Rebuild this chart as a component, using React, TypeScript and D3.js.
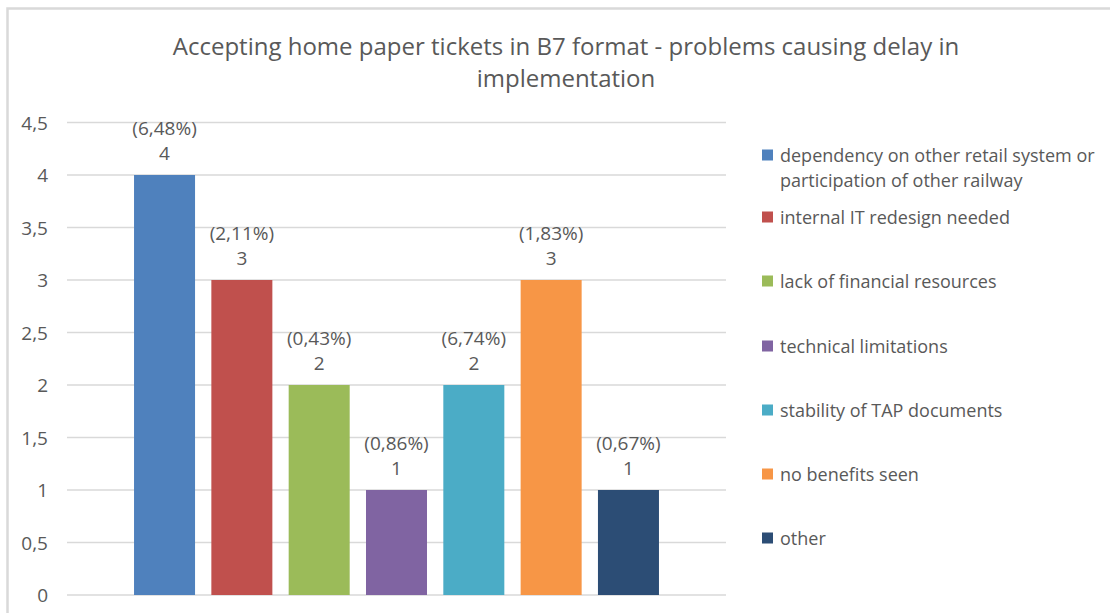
import React from "react";
import * as d3 from "d3";

const seriesNames = [
  "dependency on other retail system or participation of other railway",
  "internal IT redesign needed",
  "lack of financial resources",
  "technical limitations",
  "stability of TAP documents",
  "no benefits seen",
  "other",
];
const legendLines = [
  ["dependency on other retail system or", "participation of other railway"],
  ["internal IT redesign needed"],
  ["lack of financial resources"],
  ["technical limitations"],
  ["stability of TAP documents"],
  ["no benefits seen"],
  ["other"],
];
const values = [4, 3, 2, 1, 2, 3, 1];
const percents = ["6,48%", "2,11%", "0,43%", "0,86%", "6,74%", "1,83%", "0,67%"];
const colors = ["#4f81bd", "#c0504d", "#9bbb59", "#8064a2", "#4bacc6", "#f79646", "#2c4d75"];
const yTicks = [0, 0.5, 1, 1.5, 2, 2.5, 3, 3.5, 4, 4.5];
const titleLines = [
  "Accepting home paper tickets in B7 format - problems causing delay in",
  "implementation",
];

const W = 1110;
const H = 613;
const FONT = "'Open Sans', Lato, sans-serif";
const TEXT = "#595959";

export default function App() {
  const plotLeft = 67;
  const plotRight = 726;
  const y = d3.scaleLinear().domain([0, 4.5]).range([595, 122.5]);
  const x = d3
    .scaleBand<string>()
    .domain(seriesNames)
    .range([plotLeft, plotRight])
    .paddingInner(0.211)
    .paddingOuter(0.867);
  const fmt = (v: number) => String(v).replace(".", ",");
  const legendY = [155, 217, 281, 346, 410, 474, 538];

  return (
    <svg
      width={W}
      height={H}
      style={{ position: "absolute", left: 0, top: 0, display: "block" }}
      fontFamily={FONT}
    >
      <rect x={0} y={0} width={W} height={H} fill="#fff" />
      <path d="M7.5,1000 L7.5,8.5 L1200,8.5" fill="none" stroke="#d9d9d9" strokeWidth={2.5} />
      {titleLines.map((t, i) => (
        <text
          key={i}
          x={566}
          y={45 + i * 32}
          textAnchor="middle"
          dominantBaseline="central"
          fontSize={24}
          fill={TEXT}
        >
          {t}
        </text>
      ))}
      {yTicks.map((t) => (
        <g key={t}>
          <line
            x1={plotLeft}
            x2={plotRight}
            y1={y(t)}
            y2={y(t)}
            stroke="#d9d9d9"
            strokeWidth={1.5}
          />
          <text
            x={48}
            y={y(t)}
            textAnchor="end"
            dominantBaseline="central"
            fontSize={19}
            fill={TEXT}
          >
            {fmt(t)}
          </text>
        </g>
      ))}
      {seriesNames.map((s, i) => {
        const bx = x(s) as number;
        const bw = x.bandwidth();
        const cx = bx + bw / 2;
        return (
          <g key={s}>
            <rect x={bx} y={y(values[i])} width={bw} height={y(0) - y(values[i])} fill={colors[i]} />
            <text
              x={cx}
              y={y(values[i]) - 47}
              textAnchor="middle"
              dominantBaseline="central"
              fontSize={19}
              fill={TEXT}
            >
              ({percents[i]})
            </text>
            <text
              x={cx}
              y={y(values[i]) - 22}
              textAnchor="middle"
              dominantBaseline="central"
              fontSize={19}
              fill={TEXT}
            >
              {fmt(values[i])}
            </text>
          </g>
        );
      })}
      {legendLines.map((lines, i) => (
        <g key={i}>
          <rect x={762} y={legendY[i] - 5.5} width={11} height={11} fill={colors[i]} />
          {lines.map((l, j) => (
            <text
              key={j}
              x={780}
              y={legendY[i] + j * 25}
              dominantBaseline="central"
              fontSize={18}
              fill={TEXT}
            >
              {l}
            </text>
          ))}
        </g>
      ))}
    </svg>
  );
}
